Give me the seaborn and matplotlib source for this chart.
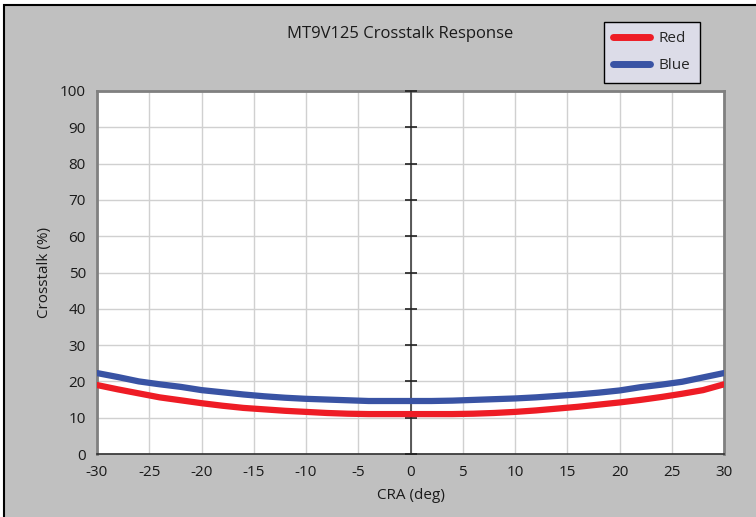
import numpy as np
import pandas as pd
import matplotlib
matplotlib.use("Agg")
import matplotlib.pyplot as plt
import seaborn as sns
from matplotlib.patches import Rectangle

cra = list(range(-30, 31, 2))
red = [19.0, 17.8, 16.7, 15.6, 14.8, 14.0, 13.3, 12.7, 12.3, 11.9, 11.6, 11.3, 11.1, 11.0, 11.0, 11.0,
       11.0, 11.0, 11.1, 11.3, 11.6, 12.0, 12.5, 13.0, 13.6, 14.2, 14.9, 15.7, 16.6, 17.6, 19.2]
blue = [22.3, 21.2, 20.0, 19.2, 18.5, 17.6, 17.0, 16.4, 15.9, 15.5, 15.2, 15.0, 14.8, 14.6, 14.6, 14.6,
        14.6, 14.7, 14.9, 15.1, 15.3, 15.6, 16.0, 16.4, 16.9, 17.5, 18.4, 19.1, 19.9, 21.1, 22.3]
series_names = ["Red", "Blue"]
colors = ["#ee1c25", "#3953a4"]
xticks = list(range(-30, 31, 5))
yticks = list(range(0, 101, 10))
title = "MT9V125 Crosstalk Response"
xlabel = "CRA (deg)"
ylabel = "Crosstalk (%)"

df = pd.DataFrame({"CRA": cra * 2, "Crosstalk": red + blue,
                   "Series": ["Red"] * len(cra) + ["Blue"] * len(cra)})

sns.set_style("white")
plt.rcParams["font.family"] = ["Open Sans", "DejaVu Sans"]

fig = plt.figure(figsize=(7.56, 5.17), dpi=100)
fig.patch.set_facecolor("white")
bg = Rectangle((4 / 756, -0.2), 1.2, 1.2 - 5 / 517, transform=fig.transFigure,
               facecolor="#c0c0c0", edgecolor="black", linewidth=1.5, zorder=-10)
fig.patches.append(bg)

ax = fig.add_axes([97 / 756, 63 / 517, 627 / 756, 363 / 517])
ax.set_facecolor("white")

sns.lineplot(data=df, x="CRA", y="Crosstalk", hue="Series", hue_order=series_names,
             palette=colors, linewidth=4.5, ax=ax, legend=True, zorder=5)

ax.set_xlim(-30, 30)
ax.set_ylim(0, 100)
ax.set_xticks(xticks)
ax.set_yticks(yticks)
ax.set_xticklabels([str(v) for v in xticks], fontsize=11, color="#1a1a1a")
ax.set_yticklabels([str(v) for v in yticks], fontsize=11, color="#1a1a1a")
ax.grid(True, color="#d0d0d0", linewidth=1)
ax.set_axisbelow(True)

ax.tick_params(axis="x", direction="inout", length=8, width=1, color="#202020", pad=4)
ax.tick_params(axis="y", length=0, pad=8)

for s in ["left", "top", "right"]:
    ax.spines[s].set_color("#808080")
    ax.spines[s].set_linewidth(2)
ax.spines["bottom"].set_color("#303030")
ax.spines["bottom"].set_linewidth(1.2)

# vertical axis crossing at 0 with cross tick marks
ax.axvline(0, color="#404040", linewidth=1.2, zorder=3)
ax.plot([0] * len(yticks), yticks, marker="_", markersize=9, markeredgewidth=1.2,
        color="#202020", linestyle="none", clip_on=False, zorder=4)

ax.set_xlabel(xlabel, fontsize=11, color="#1a1a1a", labelpad=6)
ax.set_ylabel(ylabel, fontsize=11, color="#1a1a1a", labelpad=6)

fig.text(400 / 756, 1 - 34 / 517, title, ha="center", va="center", fontsize=12, color="#1a1a1a")

handles, labels = ax.get_legend_handles_labels()
leg = ax.legend(handles, labels, loc="upper left", bbox_to_anchor=(604 / 756, 1 - 22 / 517),
                bbox_transform=fig.transFigure, fontsize=11, frameon=True, fancybox=False,
                borderaxespad=0, handlelength=2.4, handletextpad=0.6, borderpad=0.6,
                labelspacing=0.8)
leg.get_frame().set_facecolor("#dcdce8")
leg.get_frame().set_edgecolor("black")
leg.get_frame().set_linewidth(1)
leg.get_frame().set_alpha(1)
for line in leg.get_lines():
    line.set_linewidth(5)

fig.savefig("out.png", dpi=100, facecolor=fig.get_facecolor())
